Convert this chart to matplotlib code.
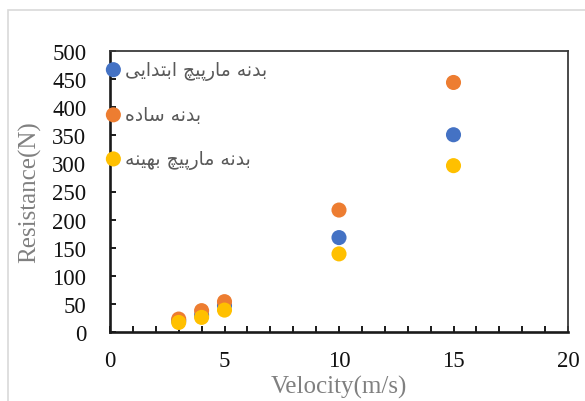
import matplotlib
matplotlib.use("Agg")
import matplotlib.pyplot as plt
from matplotlib.ticker import MultipleLocator
from matplotlib.patches import Rectangle

# Measured resistance at each towing velocity for three hull bodies
velocity = [3, 4, 5, 10, 15]
initial_spiral = [20, 30, 47, 168, 351]
plain_body = [23, 38, 54, 217, 444]
optimized_spiral = [17, 26, 39, 139, 296]

series_names = ["بدنه مارپیچ ابتدایی", "بدنه ساده", "بدنه مارپیچ بهینه"]
series_colors = ["#4472C4", "#ED7D31", "#FFC000"]

x_label = "Velocity(m/s)"
y_label = "Resistance(N)"

# Contextual forms (isolated, final, initial, medial) for the letters used
_FORMS = {
    "\u0627": ("\uFE8D", "\uFE8E", None, None),
    "\u0628": ("\uFE8F", "\uFE90", "\uFE91", "\uFE92"),
    "\u062A": ("\uFE95", "\uFE96", "\uFE97", "\uFE98"),
    "\u062F": ("\uFEA9", "\uFEAA", None, None),
    "\u0631": ("\uFEAD", "\uFEAE", None, None),
    "\u0633": ("\uFEB1", "\uFEB2", "\uFEB3", "\uFEB4"),
    "\u0645": ("\uFEE1", "\uFEE2", "\uFEE3", "\uFEE4"),
    "\u0646": ("\uFEE5", "\uFEE6", "\uFEE7", "\uFEE8"),
    "\u0647": ("\uFEE9", "\uFEEA", "\uFEEB", "\uFEEC"),
    "\u067E": ("\uFB56", "\uFB57", "\uFB58", "\uFB59"),
    "\u0686": ("\uFB7A", "\uFB7B", "\uFB7C", "\uFB7D"),
    "\u06CC": ("\uFBFC", "\uFBFD", "\uFBFE", "\uFBFF"),
}


def _joins_forward(ch):
    return ch in _FORMS and _FORMS[ch][2] is not None


def shape_rtl(text):
    """Join Persian letters and put them in visual (left-to-right) order."""
    out = []
    for i, ch in enumerate(text):
        if ch not in _FORMS:
            out.append(ch)
            continue
        prev = text[i - 1] if i > 0 else ""
        nxt = text[i + 1] if i + 1 < len(text) else ""
        join_prev = _joins_forward(prev)
        join_next = _joins_forward(ch) and nxt in _FORMS
        iso, fin, ini, med = _FORMS[ch]
        if join_prev and join_next:
            out.append(med)
        elif join_prev:
            out.append(fin)
        elif join_next:
            out.append(ini)
        else:
            out.append(iso)
    return "".join(reversed(out))


W, H = 585, 402
fig = plt.figure(figsize=(W / 100, H / 100), dpi=100)
fig.patch.set_facecolor("white")

# light outline of the chart area
fig.add_artist(Rectangle((8 / W, -0.05), 1.2, 1 - 11 / H + 0.05,
                         transform=fig.transFigure, fill=False,
                         edgecolor="#D9D9D9", linewidth=1.2))

ax = fig.add_axes([110 / W, 1 - 333 / H, (568 - 110) / W, (333 - 52) / H])

serif = "Liberation Serif"
values = [initial_spiral, plain_body, optimized_spiral]
handles = []
for name, vals, col in zip(series_names, values, series_colors):
    h = ax.scatter(velocity, vals, s=118, color=col, edgecolors="none",
                   label=shape_rtl(name), zorder=3, clip_on=False)
    handles.append(h)

ax.set_xlim(0, 20)
ax.set_ylim(0, 500)
ax.xaxis.set_major_locator(MultipleLocator(5))
ax.xaxis.set_minor_locator(MultipleLocator(1))
ax.yaxis.set_major_locator(MultipleLocator(50))

for side in ("left", "bottom"):
    ax.spines[side].set_linewidth(1.9)
    ax.spines[side].set_color("#1a1a1a")
for side in ("top", "right"):
    ax.spines[side].set_linewidth(1.3)
    ax.spines[side].set_color("#3a3a3a")

ax.tick_params(axis="both", which="both", direction="in", length=4,
               width=1.4, color="#1a1a1a")
ax.tick_params(axis="y", which="major", pad=17, labelsize=16.5,
               labelcolor="#111111")
ax.tick_params(axis="x", which="major", pad=13, labelsize=16.5,
               labelcolor="#111111")
for lbl in ax.get_xticklabels() + ax.get_yticklabels():
    lbl.set_fontfamily(serif)

ax.set_xlabel(x_label, fontsize=18, family=serif, color="#808080", labelpad=3)
ax.set_ylabel(y_label, fontsize=18, family=serif, color="#808080", labelpad=8)

leg = fig.legend(handles=handles, loc="upper left",
                 bbox_to_anchor=(104 / W, 1 - 60.6 / H),
                 bbox_transform=fig.transFigure, frameon=False,
                 borderpad=0, borderaxespad=0, handlelength=1.0,
                 handletextpad=0.12, labelspacing=1.34, markerscale=1.0,
                 prop={"family": "DejaVu Sans", "size": 13.5})
for t in leg.get_texts():
    t.set_color("#595959")

fig.savefig("out.png", dpi=100, facecolor="white")
